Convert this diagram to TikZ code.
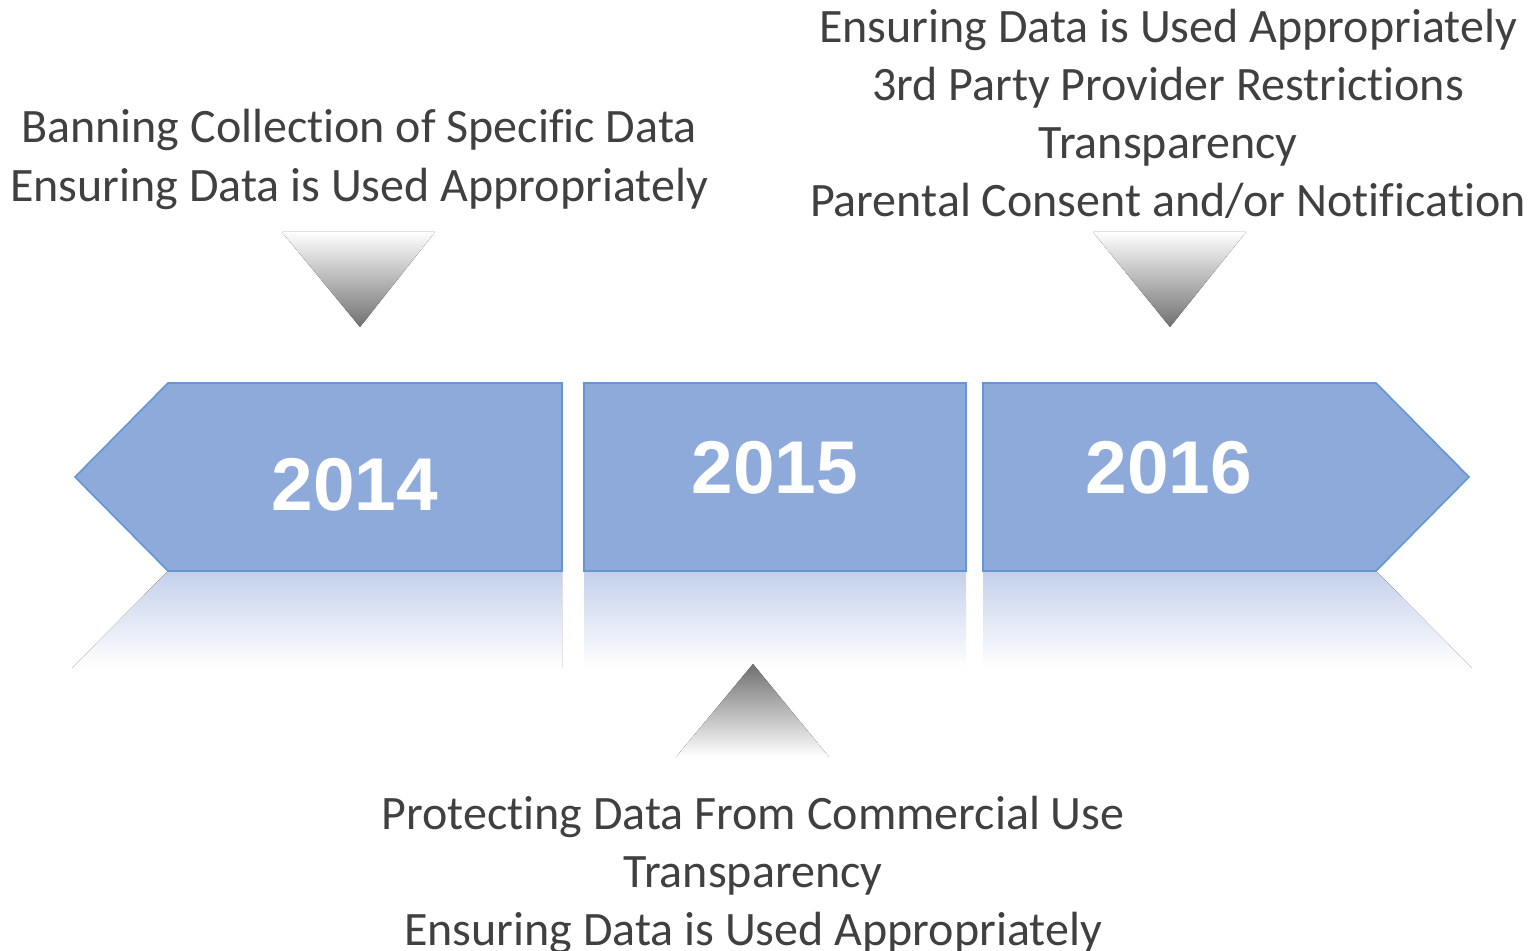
\documentclass[tikz,border=0pt]{standalone}
\usepackage{fontspec}
\setmainfont[Ligatures={NoCommon,NoContextual}]{Carlito}
\newfontfamily\yearfont{Liberation Sans}
\newcommand{\nk}{\kern0pt}
\definecolor{boxfill}{RGB}{142,170,219}
\definecolor{boxline}{RGB}{100,150,212}
\definecolor{reftop}{RGB}{196,208,235}
\definecolor{txt}{RGB}{64,64,64}
\definecolor{tri}{RGB}{112,112,112}
\tikzset{
  yearbox/.style={fill=boxfill,draw=boxline,line width=0.8pt,line join=miter},
  refl/.style={top color=reftop,bottom color=white,draw=none},
  downtri/.style={top color=white,bottom color=tri,draw=none},
  uptri/.style={top color=tri,bottom color=white,draw=none},
  yeartext/.style={inner sep=0pt,text=white,font=\yearfont\bfseries\fontsize{37.4}{40}\selectfont},
  line/.style={inner sep=0pt,anchor=base,text=txt,font=\fontsize{24}{29}\selectfont}
}
\begin{document}
\begin{tikzpicture}[x=0.5pt,y=-0.5pt]
\useasboundingbox (0,0) rectangle (1533,951);
% reflections
\fill[refl] (168,571) -- (562,571) -- (562,668) -- (72,668) -- cycle;
\fill[refl] (584,571) -- (966,571) -- (966,668) -- (584,668) -- cycle;
\fill[refl] (983,571) -- (1376,571) -- (1472,668) -- (983,668) -- cycle;
% boxes
\draw[yearbox] (75,477) -- (168,383) -- (562,383) -- (562,571) -- (168,571) -- cycle;
\draw[yearbox] (584,383) rectangle (966,571);
\draw[yearbox] (983,383) -- (1376,383) -- (1469,477) -- (1376,571) -- (983,571) -- cycle;
\node[yeartext] (y14) at (355,485) {2014};
\node[yeartext] (y15) at (775,468) {2015};
\node[yeartext] (y16) at (1169,468) {2016};
% triangles
\fill[downtri] (282,232) -- (435,232) -- (360,327) -- cycle;
\fill[downtri] (1093,232) -- (1246,232) -- (1170,327) -- cycle;
\fill[uptri] (753,664) -- (829,757) -- (676,757) -- cycle;
% texts
\node[line] (a1) at (359,143) {Banning Collec\nk tion of Speci\nk fic Data};
\node[line] (a2) at (359,202) {Ensuring Data is Used Appropriately};
\node[line] (b1) at (1168,43) {Ensuring Data is Used Appropriately};
\node[line] (b2) at (1168,101) {3rd Party Provider Restric\nk tions};
\node[line] (b3) at (1168,159) {Transparency};
\node[line] (b4) at (1168,217) {Parental Consent and/or Noti\nk fica\nk tion};
\node[line] (c1) at (753,830) {Protec\nk ting Data From Commercial Use};
\node[line] (c2) at (753,888) {Transparency};
\node[line] (c3) at (753,946) {Ensuring Data is Used Appropriately};
\end{tikzpicture}
\end{document}
